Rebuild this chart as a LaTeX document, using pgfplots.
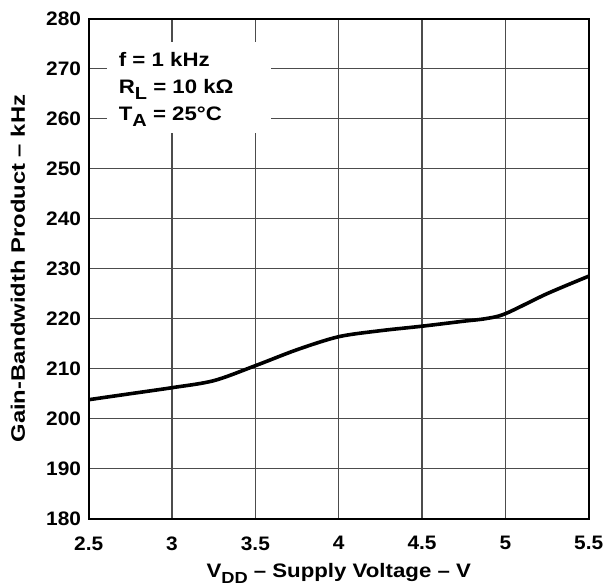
\documentclass[border=0pt]{standalone}
\usepackage{pgfplots}
\pgfplotsset{compat=1.18}
\usepackage{fontspec}
\setmainfont[FakeStretch=1.07]{Liberation Sans}
\newfontfamily\lgfont[FakeStretch=1.14,Ligatures=TeX]{Liberation Sans}
\newfontfamily\ylfont[FakeStretch=1.22,Ligatures=TeX]{Liberation Sans}
\begin{document}
\fontsize{19.5bp}{23bp}\selectfont\bfseries
\begin{tikzpicture}[x=1bp,y=1bp]
\useasboundingbox (-88.7,-66.3) rectangle (524.3,499.7+19);
\begin{axis}[
  at={(0,0)}, anchor=south west,
  scale only axis, width=500bp, height=500bp,
  xmin=2.5, xmax=5.5, ymin=180, ymax=280,
  xtick={2.5,3,3.5,4,4.5,5,5.5},
  xticklabels={2.5,3,3.5,4,4.5,5,5.5},
  ytick={180,190,...,280},
  yticklabels={180,190,200,210,220,230,240,250,260,270,280},
  grid=major,
  major grid style={draw=black!70, line width=1.2bp},
  axis line style={line width=2.2bp, black},
  tick style={draw=none},
  ticklabel style={font=\fontsize{19.5bp}{23bp}\selectfont\bfseries},
  xticklabel style={yshift=-11bp},
  yticklabel style={xshift=-1bp},
  xlabel={V\raisebox{-0.28em}{\fontsize{16bp}{16bp}\selectfont DD} – Supply Voltage – V},
  ylabel={Gain-Bandwidth Product – kHz},
  xlabel style={font=\lgfont\fontsize{19.5bp}{23bp}\selectfont\bfseries, yshift=0bp},
  ylabel style={font=\ylfont\fontsize{19.5bp}{23bp}\selectfont\bfseries, yshift=8bp},
  clip=false,
]
\fill[white] (axis cs:2.61,257.2) rectangle (axis cs:3.594,275.4);
\addplot[black, line width=3.6bp, smooth, tension=0.5] coordinates {
(2.5,203.8) (2.75,205.0) (3.0,206.2) (3.25,207.6) (3.5,210.6) (3.75,213.8)
(4.0,216.4) (4.25,217.6) (4.5,218.5) (4.75,219.5) (4.88,220.0) (5.0,221.0)
(5.25,225.0) (5.5,228.5)
};
\node[anchor=base west, inner sep=0, font=\lgfont\fontsize{19.5bp}{23bp}\selectfont\bfseries] at (axis cs:2.68,270.4) {f = 1 kHz};
\node[anchor=base west, inner sep=0, font=\lgfont\fontsize{19.5bp}{23bp}\selectfont\bfseries] at (axis cs:2.68,265.1) {R\raisebox{-0.3em}{\fontsize{17.5bp}{17bp}\selectfont L} = 10 kΩ};
\node[anchor=base west, inner sep=0, font=\lgfont\fontsize{19.5bp}{23bp}\selectfont\bfseries] at (axis cs:2.68,259.7) {T\raisebox{-0.3em}{\fontsize{17.5bp}{17bp}\selectfont A} = 25°C};
\end{axis}
\end{tikzpicture}
\end{document}
